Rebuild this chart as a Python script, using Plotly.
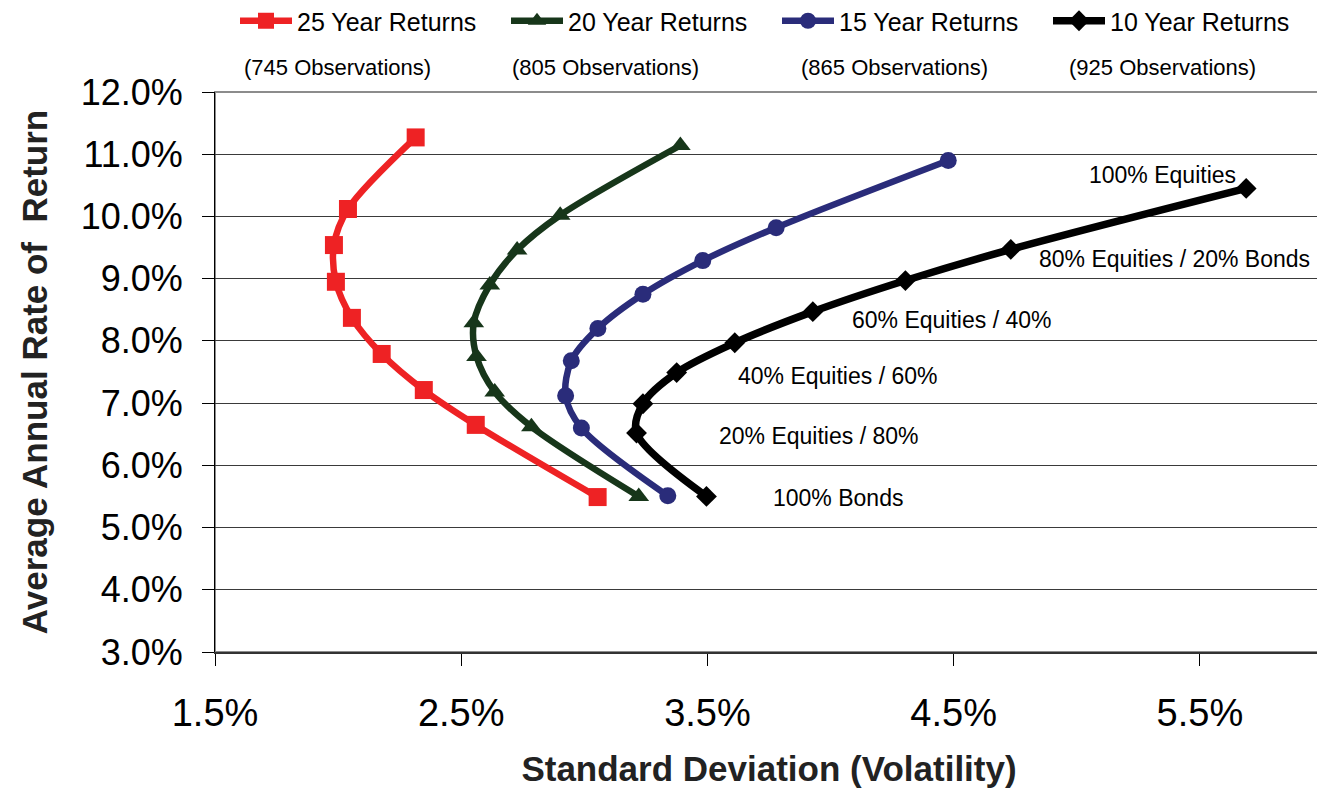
import plotly.graph_objects as go

# ---------------- data ----------------
series_names = ["25 Year Returns", "20 Year Returns", "15 Year Returns", "10 Year Returns"]
observations = ["(745 Observations)", "(805 Observations)", "(865 Observations)", "(925 Observations)"]

sd_25 = [2.315, 2.040, 1.983, 1.991, 2.056, 2.177, 2.348, 2.559, 3.054]
ret_25 = [11.27, 10.12, 9.54, 8.95, 8.37, 7.79, 7.21, 6.65, 5.49]

sd_20 = [3.390, 2.902, 2.727, 2.616, 2.551, 2.562, 2.636, 2.785, 3.221]
ret_20 = [11.14, 10.02, 9.46, 8.90, 8.29, 7.75, 7.18, 6.62, 5.50]

sd_15 = [4.478, 3.779, 3.481, 3.238, 3.055, 2.947, 2.924, 2.988, 3.339]
ret_15 = [10.90, 9.82, 9.29, 8.75, 8.20, 7.68, 7.12, 6.60, 5.51]

sd_10 = [5.688, 4.732, 4.304, 3.928, 3.611, 3.375, 3.238, 3.212, 3.496]
ret_10 = [10.45, 9.47, 8.97, 8.47, 7.97, 7.49, 6.99, 6.52, 5.50]

mix_labels = ["100% Equities", "80% Equities / 20% Bonds", "60% Equities / 40%",
              "40% Equities / 60%", "20% Equities / 80%", "100% Bonds"]
mix_label_x = [5.042, 4.839, 4.080, 3.614, 3.537, 3.760]
mix_label_y = [10.66, 9.31, 8.34, 7.44, 6.47, 5.48]

x_ticks = [1.5, 2.5, 3.5, 4.5, 5.5]
y_ticks = [3, 4, 5, 6, 7, 8, 9, 10, 11, 12]

# ---------------- styling ----------------
FONT = "Liberation Sans, Arial, sans-serif"
OFF = 8                      # page body margin of the html page
W, H = 1325 - OFF, 788 - OFF
ML, MR, MT, MB = 215 - OFF, 2, 92 - OFF, 136
PW = W - ML - MR
PH = H - MT - MB


def page_x_to_paper(px):
    return (px - OFF - ML) / PW


def page_y_to_paper(py):
    return 1 + (MT - (py - OFF)) / PH


colors = ["#EE2224", "#17361A", "#2A2C7A", "#000000"]
symbols = ["square", "triangle-up", "circle", "diamond"]
msizes = [18, 18, 17, 16]
lwidths = [6.5, 6.5, 6.5, 7.5]
xs = [sd_25, sd_20, sd_15, sd_10]
ys = [ret_25, ret_20, ret_15, ret_10]

fig = go.Figure()
for name, x, y, c, s, ms, lw in zip(series_names, xs, ys, colors, symbols, msizes, lwidths):
    fig.add_trace(go.Scatter(
        x=x, y=y, name=name, mode="lines+markers",
        line=dict(color=c, width=lw, shape="spline", smoothing=0.9),
        marker=dict(symbol=s, size=ms, color=c, line=dict(width=0)),
        cliponaxis=False,
    ))

annotations = []
for t, ax, ay in zip(mix_labels, mix_label_x, mix_label_y):
    annotations.append(dict(x=ax, y=ay, xref="x", yref="y", text=t, showarrow=False,
                            xanchor="left", yanchor="middle",
                            font=dict(family=FONT, size=23, color="#000")))

obs_centers_px = [337, 605, 894, 1162]
for t, cx in zip(observations, obs_centers_px):
    annotations.append(dict(x=page_x_to_paper(cx), y=page_y_to_paper(68),
                            xref="paper", yref="paper", text=t, showarrow=False,
                            xanchor="center", yanchor="middle",
                            font=dict(family=FONT, size=22, color="#000")))

fig.update_layout(
    width=W, height=H,
    margin=dict(l=ML, r=MR, t=MT, b=MB, autoexpand=False),
    paper_bgcolor="white", plot_bgcolor="white",
    font=dict(family=FONT, color="#000"),
    showlegend=True,
    legend=dict(orientation="h", x=page_x_to_paper(235), xanchor="left",
                y=page_y_to_paper(-2), yanchor="top",
                font=dict(family=FONT, size=25, color="#000"),
                itemwidth=52, entrywidth=204, entrywidthmode="pixels",
                bgcolor="rgba(0,0,0,0)", traceorder="normal"),
    annotations=annotations,
    shapes=[dict(type="rect", xref="paper", yref="paper", x0=0, x1=1, y0=0, y1=1,
                 line=dict(color="#8c8c8c", width=2), layer="below")],
)

fig.update_xaxes(
    range=[1.5, 6.0], tickvals=x_ticks, ticktext=[f"{v:.1f}%" for v in x_ticks],
    showgrid=False, zeroline=False,
    showline=True, linecolor="#333", linewidth=2,
    ticks="outside", ticklen=12, tickcolor="#000", tickwidth=1,
    tickfont=dict(family=FONT, size=38, color="#000"), ticklabelstandoff=14,
    title=dict(text="<b>Standard Deviation (Volatility)</b>",
               font=dict(family=FONT, size=35, color="#222"), standoff=29),
)
fig.update_yaxes(
    range=[3, 12], tickvals=y_ticks, ticktext=[f"{v:.1f}%" for v in y_ticks],
    showgrid=True, gridcolor="#3a3a3a", gridwidth=1, zeroline=False,
    showline=True, linecolor="#000", linewidth=1,
    ticks="outside", ticklen=12, tickcolor="#000", tickwidth=1,
    tickfont=dict(family=FONT, size=36, color="#000"), ticklabelstandoff=12,
    title=dict(text="<b>Average Annual Rate of&nbsp; Return</b>",
               font=dict(family=FONT, size=35, color="#222"), standoff=22),
)

fig.write_html("out.html")
